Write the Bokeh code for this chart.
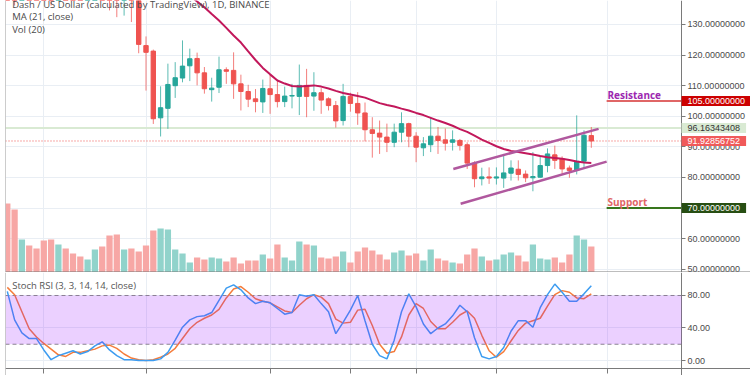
from bokeh.plotting import figure
from bokeh.models import (Range1d, FixedTicker, NumeralTickFormatter, Label, Span,
                          CustomJSTickFormatter, BoxAnnotation, Grid)
from bokeh.layouts import column
from bokeh.embed import file_html
from bokeh.resources import INLINE

# ---------------- data ----------------
opens = [150, 146, 143, 148, 145, 142, 140.5, 139, 144, 142,
         140, 139, 143, 148, 145, 141, 139, 142.5, 140, 123.1,
         121.3, 99.5, 102.6, 110.0, 112.5, 116.5, 118.9, 114.2, 108.7, 109.5,
         115.2, 115.0, 110.6, 108.1, 105.7, 104.7, 109.0, 107.1, 104.8, 106.6,
         106.5, 110.1, 106.6, 107.7, 105.7, 103.5, 98.6, 106.5, 104.2, 101.1,
         95.6, 94.5, 93.2, 91.5, 94.8, 97.6, 93.5, 89.7, 90.7, 93.5,
         92.3, 91.5, 92.1, 90.7, 84.7, 79.6, 80.2, 79.8, 79.8, 81.4,
         82.7, 81.1, 79.9, 80.1, 83.9, 87.4, 86.1, 83.1, 82.3, 85.3, 93.7]
highs = [153, 149, 151, 151, 148, 147, 144, 146, 148, 145,
         143, 145, 150, 152, 148, 145, 145, 145, 142, 126.1,
         121.8, 109.8, 117.2, 117.7, 124.8, 122.1, 120.8, 116.1, 112.6, 119.5,
         116.0, 120.9, 113.6, 110.3, 108.9, 112.0, 113.5, 111.7, 109.7, 110.6,
         116.9, 115.5, 114.4, 109.2, 106.2, 105.0, 110.6, 107.7, 107.9, 104.5,
         99.7, 98.6, 97.6, 97.6, 101.3, 97.9, 94.8, 93.2, 99.7, 96.5,
         96.0, 95.4, 92.6, 91.5, 85.3, 83.2, 83.3, 83.3, 87.7, 85.6,
         85.6, 82.3, 88.3, 86.9, 89.5, 90.4, 86.9, 83.9, 100.3, 95.4, 96.5]
lows = [139, 136.2, 139.5, 141, 140, 139, 136.2, 138.5, 140, 139,
        138.5, 138.4, 140, 142, 134.6, 132.4, 132.9, 130.8, 120.6, 108.4,
        97.5, 93.4, 95.9, 106.0, 111.1, 111.5, 110.1, 107.4, 104.8, 107.6,
        110.6, 105.7, 101.9, 103.0, 101.3, 101.1, 100.8, 102.9, 103.0, 102.6,
        100.4, 99.7, 101.8, 100.8, 101.9, 96.3, 97.0, 101.5, 97.2, 91.8,
        86.5, 87.7, 88.3, 89.9, 91.5, 89.9, 85.0, 87.0, 88.3, 87.7,
        88.8, 88.8, 88.8, 82.8, 76.8, 77.4, 77.9, 77.7, 76.6, 79.0,
        79.0, 78.5, 75.5, 79.9, 81.7, 82.8, 81.2, 79.9, 81.0, 82.8, 89.7]
closes = [146, 143, 148, 145, 142, 140.5, 139, 144, 142, 140,
          139, 143, 148, 145, 141, 139, 142.5, 140, 123.5, 120.9,
          99.2, 102.8, 110.4, 112.6, 116.4, 118.8, 114.2, 109.0, 109.2, 115.2,
          114.7, 110.6, 108.1, 105.6, 104.8, 109.1, 107.1, 104.8, 106.6, 106.8,
          110.1, 106.5, 107.7, 105.3, 103.5, 98.5, 106.5, 104.2, 101.1, 95.6,
          94.4, 93.2, 91.5, 94.8, 97.6, 93.5, 89.9, 91.0, 93.5, 92.1,
          91.2, 92.3, 90.5, 84.7, 79.6, 80.2, 79.8, 80.2, 81.5, 83.1,
          81.0, 79.9, 80.3, 83.9, 87.7, 85.6, 82.8, 82.3, 85.3, 93.8, 91.93]
volumes = [69, 63, 33, 27, 24, 32, 33, 28, 24, 19,
           16, 13, 23, 26, 37, 38, 23, 24, 21, 27,
           42, 44, 43, 23, 19, 10, 15, 13, 15, 14,
           11, 15, 9, 12, 12, 18, 14, 28, 15, 12,
           31, 28, 27, 15, 14, 16, 21, 10, 21, 25,
           22, 18, 13, 20, 22, 17, 19, 12, 23, 14,
           12, 10, 9, 18, 24, 16, 12, 13, 18, 20,
           17, 11, 28, 14, 13, 15, 10, 18, 37, 33, 26]
ma_start = 24
ma21 = [141.5, 139.5, 137.5, 135.6, 133.4, 131.3, 128.9, 126.4, 124.1, 121.2,
        118.4, 115.8, 113.7, 111.7, 110.7, 109.9, 109.7, 109.9, 110.1, 109.7,
        109.1, 108.3, 107.6, 107.1, 106.6, 106.1, 105.2, 104.3, 103.7, 103.2,
        102.5, 101.9, 101.1, 100.4, 99.5, 98.6, 97.8, 96.9, 95.8, 94.9,
        93.7, 92.4, 91.3, 90.2, 89.3, 88.7, 88.3, 87.9, 87.5, 87.0,
        86.6, 86.4, 86.1, 85.7, 85.2, 84.9, 84.7]
stoch_k = [85, 50, 34, 27, 27, 13, 1, 6, 9, 12,
           8, 11, 18, 23, 13, 6, 1, 1, 0, 0,
           0, 2, 10, 25, 41, 50, 54, 55, 59, 74,
           89, 93, 87, 77, 70, 73, 71, 64, 57, 59,
           81, 79, 81, 70, 60, 33, 47, 62, 80, 49,
           20, 6, 2, 25, 60, 82, 66, 45, 33, 40,
           45, 55, 68, 60, 28, 5, 2, 5, 16, 36,
           49, 49, 41, 65, 81, 94, 84, 73, 73, 82, 92]
stoch_d = [90, 81, 60, 39, 29, 21, 14, 7, 5, 10,
           10, 12, 14, 18, 19, 15, 8, 3, 1, 0,
           1, 4, 8, 15, 27, 39, 47, 52, 56, 63,
           77, 88, 91, 84, 76, 73, 71, 66, 61, 59,
           68, 76, 81, 78, 70, 51, 46, 47, 62, 63,
           43, 20, 9, 11, 29, 56, 70, 64, 48, 39,
           39, 47, 56, 61, 52, 31, 12, 4, 11, 24,
           37, 46, 49, 52, 67, 81, 86, 84, 77, 76, 82]
price_ticks = [50, 60, 70, 80, 90, 100, 110, 120, 130]
stoch_ticks = [0, 40, 80]
stoch_band = [20, 80]
time_grid = [5, 19, 36, 47, 56, 67, 82.25]
channel_upper_x = [61.1, 81.0]
channel_upper_y = [82.8, 95.9]
channel_lower_x = [62.1, 82.1]
channel_lower_y = [71.4, 85.2]
resistance = 105.0
support = 70.0
level_start = 82.1
last_price = 91.92856752
marked_price = 96.16343408

# ---------------- styling / geometry ----------------
UP, DN = "#26a69a", "#ef5350"
UPV, DNV = "#91d3cb", "#f7a7a5"
GRID = "#e9eef4"
AXC = "#7a7a7a"
LBL = "#4a4a4a"
AXFONT = "Liberation Sans"
AXSIZE = "9px"

X0 = -0.247            # left edge of the plotting frame (bars)
AX = 92.36             # bar position where the price scale sits
XR = Range1d(X0, X0 + 745 / 7.3)
PRICE_LO, PRICE_HI = 48.95, 137.84
ST_LO, ST_HI = -18.46, 108.3
ST_AXIS = -9.85        # stoch value where the time axis line sits

idx = list(range(len(closes)))
up = [c >= o for o, c in zip(opens, closes)]
body_col = [UP if u else DN for u in up]
vol_col = [UPV if u else DNV for u in up]
tops = [max(o, c) for o, c in zip(opens, closes)]
bots = [min(o, c) for o, c in zip(opens, closes)]


def style_axis(ax, ticks, fmt):
    ax.ticker = FixedTicker(ticks=ticks)
    ax.formatter = NumeralTickFormatter(format=fmt)
    ax.fixed_location = AX
    ax.major_tick_out = 4
    ax.major_tick_in = 0
    ax.minor_tick_line_color = None
    ax.axis_line_color = AXC
    ax.major_tick_line_color = AXC
    ax.major_label_text_color = LBL
    ax.major_label_text_font = AXFONT
    ax.major_label_text_font_size = AXSIZE
    ax.major_label_standoff = 2


def bound_grid(g, lo, hi):
    if "cross_bounds" in g.properties():
        g.cross_bounds = (lo, hi)


p = figure(frame_width=745, frame_height=272, x_range=XR, y_range=Range1d(PRICE_LO, PRICE_HI),
           y_axis_location="right", x_axis_location=None, output_backend="svg",
           toolbar_location=None, min_border_left=5, min_border_right=0,
           min_border_top=0, min_border_bottom=0)
p.outline_line_color = None
p.extra_y_ranges = {"vol": Range1d(0, 272)}
p.xgrid.visible = False
p.add_layout(Grid(dimension=0, ticker=FixedTicker(ticks=time_grid), grid_line_color=GRID))
yg = p.ygrid[0]
yg.ticker = FixedTicker(ticks=price_ticks)
yg.grid_line_color = GRID
bound_grid(yg, X0, AX)
style_axis(p.yaxis[0], price_ticks, "0.00000000")

p.vbar(x=idx, top=volumes, width=0.86, y_range_name="vol", fill_color=vol_col, line_color=None)

p.segment(x0=[X0], y0=[marked_price], x1=[AX], y1=[marked_price], line_color="#d9ead3", line_width=2)
p.segment(x0=[X0], y0=[last_price], x1=[AX], y1=[last_price], line_color=DN, line_width=1, line_dash="1 2")

p.segment(x0=idx, y0=lows, x1=idx, y1=highs, line_color=body_col, line_alpha=0.75, line_width=1)
p.vbar(x=idx, top=tops, bottom=bots, width=0.6, fill_color=body_col, line_color=body_col)

p.line(idx[ma_start:], ma21, line_color="#c2185b", line_width=2)

p.line(channel_upper_x, channel_upper_y, line_color="#b0589e", line_width=2.5)
p.line(channel_lower_x, channel_lower_y, line_color="#b0589e", line_width=2.5)

p.segment(x0=[level_start], y0=[resistance], x1=[AX], y1=[resistance], line_color="#e06666", line_width=2)
p.segment(x0=[level_start], y0=[support], x1=[AX], y1=[support], line_color="#38761d", line_width=2)

p.add_layout(Span(location=X0, dimension="height", line_color="#9a9a9a", line_width=1))
p.add_layout(Span(location=PRICE_LO + 0.5 / 3.06, dimension="width", line_color=AXC, line_width=1))


def legend(fig, text, x, y, size="9.5px", color=LBL, style="normal", font="Open Sans"):
    fig.add_layout(Label(x=x, y=y, x_units="screen", y_units="screen", text=text,
                         text_font=font, text_font_size=size, text_color=color,
                         text_font_style=style, text_baseline="middle", text_align="left"))


legend(p, "Dash / US Dollar (calculated by TradingView), 1D, BINANCE", 6.7, 268.2)
legend(p, "MA (21, close)", 6.7, 256)
legend(p, "Vol (20)", 6.7, 243.2)
legend(p, "Resistance", 602, 178, size="10px", color="#9c27b0", style="bold")
legend(p, "Support", 602, 71, size="10px", color="#e06666", style="bold")


def tag(fig, value, text, bg, fg):
    fig.add_layout(Label(x=AX, y=value, x_units="data", y_units="data", text=text,
                         text_font=AXFONT, text_font_size=AXSIZE, text_color=fg,
                         text_baseline="middle", text_align="left",
                         background_fill_color=bg, padding=(6, 2), level="overlay"))


tag(p, resistance, "105.00000000", "#cc0000", "white")
tag(p, marked_price, "96.16343408", "#d9ead3", "#333333")
tag(p, last_price, "91.92856752", "#f05a5a", "white")
tag(p, support, "70.00000000", "#274e13", "white")

# ---------------- Stoch RSI pane ----------------
s = figure(frame_width=745, frame_height=103, x_range=XR, y_range=Range1d(ST_LO, ST_HI),
           y_axis_location="right", output_backend="svg", toolbar_location=None,
           min_border_left=5, min_border_right=0, min_border_top=0, min_border_bottom=0)
s.outline_line_color = None
xg = s.xgrid[0]
xg.ticker = FixedTicker(ticks=time_grid)
xg.grid_line_color = GRID
bound_grid(xg, ST_AXIS, ST_HI)
sg = s.ygrid[0]
sg.ticker = FixedTicker(ticks=stoch_ticks)
sg.grid_line_color = GRID
bound_grid(sg, X0, AX)
style_axis(s.yaxis[0], stoch_ticks, "0.00")

sx = s.xaxis[0]
sx.ticker = FixedTicker(ticks=time_grid)
sx.formatter = CustomJSTickFormatter(code="return ''")
sx.fixed_location = ST_AXIS
sx.major_tick_out = 5
sx.major_tick_in = 0
sx.minor_tick_line_color = None
sx.axis_line_color = AXC
sx.major_tick_line_color = AXC

s.add_layout(BoxAnnotation(left=X0, right=AX, bottom=stoch_band[0], top=stoch_band[1],
                           fill_color="#9915ff", fill_alpha=0.2, line_color=None))
s.segment(x0=[X0, X0], y0=stoch_band, x1=[AX, AX], y1=stoch_band,
          line_color="#8a8a8a", line_width=1, line_dash="4 3")
s.add_layout(Span(location=X0, dimension="height", line_color="#9a9a9a", line_width=1))

s.line(idx, stoch_d, line_color="#f57c3b", line_width=1.5)
s.line(idx, stoch_k, line_color="#3d9cf0", line_width=1.5)

legend(s, "Stoch RSI (3, 3, 14, 14, close)", 6.7, 89.7, color="#555555")

layout = column(p, s, spacing=0)
open("out.html", "w").write(file_html(layout, INLINE))
